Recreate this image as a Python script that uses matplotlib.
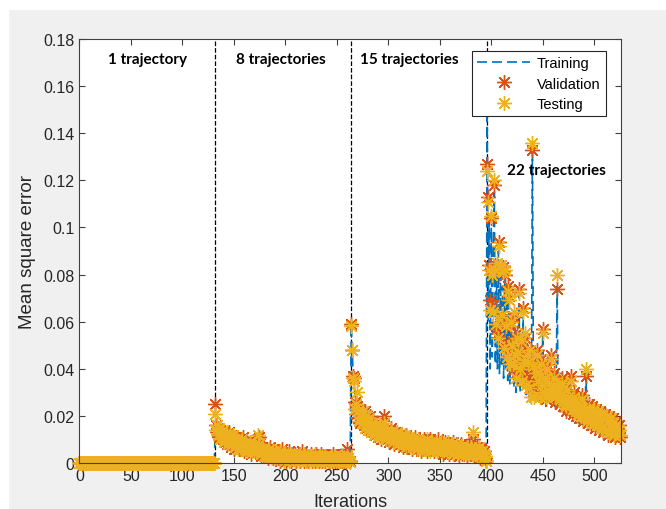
import numpy as np
import matplotlib.pyplot as plt
from matplotlib.patches import Rectangle
from matplotlib.ticker import FuncFormatter

# MSE values are stored x1000
# phase 1: 1 trajectory, iterations 0-131 (all ~0)
train_p1 = [0] * 132
val_p1 = [0] * 132
test_p1 = [0] * 132

# phase 2: 8 trajectories, iterations 132-263
train_p2 = [15, 14, 13, 12, 13, 11, 12, 10, 11, 10,
            10, 9, 10, 9, 8, 10, 8, 9, 8, 8,
            8, 7, 8, 8, 6, 7, 6, 7, 6, 6,
            7, 5, 6, 5, 7, 5, 5, 6, 4, 5,
            5, 7, 8, 5, 4, 4, 5, 3, 4, 4,
            3, 4, 4, 3, 5, 3, 3, 2, 3, 4,
            2, 2, 3, 3, 2, 2, 4, 2, 2, 3,
            2, 2, 2, 3, 2, 2, 1, 2, 2, 3,
            2, 2, 2, 1, 2, 3, 1, 2, 4, 2,
            1, 1, 2, 2, 1, 2, 1, 3, 1, 1,
            1, 2, 1, 1, 2, 2, 1, 1, 2, 1,
            1, 1, 1, 2, 1, 1, 1, 1, 1, 2,
            1, 1, 1, 1, 1, 1, 1, 1, 5, 2, 1, 0.5]
val_p2 = [25, 16, 13, 15, 11, 14, 12, 10, 13, 9,
          12, 8, 11, 13, 9, 7, 11, 10, 6, 9,
          11, 7, 8, 10, 6, 9, 7, 11, 5, 8,
          6, 9, 5, 8, 7, 4, 8, 6, 9, 5,
          7, 10, 11, 5, 3, 7, 4, 6, 3, 5,
          6, 2, 4, 7, 3, 5, 2, 6, 4, 3,
          5, 2, 4, 1, 3, 6, 2, 4, 3, 1,
          4, 2, 5, 3, 1, 3, 2, 4, 1, 3,
          2, 4, 1, 3, 5, 2, 1, 3, 4, 2,
          1, 3, 2, 4, 1, 2, 3, 1, 4, 2,
          3, 1, 2, 4, 1, 3, 2, 1, 3, 2,
          1, 3, 2, 1, 4, 2, 1, 3, 1, 2,
          3, 1, 2, 1, 3, 1, 2, 1, 6, 2, 1, 1]
test_p2 = [21, 14, 16, 12, 15, 10, 13, 14, 9, 12,
           10, 12, 8, 10, 12, 9, 8, 12, 10, 7,
           9, 10, 6, 8, 9, 6, 10, 7, 8, 6,
           8, 5, 7, 6, 9, 6, 5, 7, 5, 8,
           5, 12, 8, 6, 4, 5, 6, 3, 5, 4,
           3, 5, 6, 3, 4, 2, 5, 3, 2, 5,
           2, 4, 3, 5, 2, 3, 4, 1, 4, 3,
           2, 4, 1, 3, 4, 2, 3, 1, 3, 2,
           3, 1, 4, 2, 2, 3, 4, 2, 1, 3,
           2, 1, 3, 2, 3, 1, 2, 4, 1, 2,
           1, 3, 2, 1, 3, 2, 1, 3, 2, 1,
           2, 1, 3, 2, 1, 2, 3, 1, 2, 1,
           1, 2, 1, 3, 1, 2, 1, 2, 3, 2, 1, 0.5]

# phase 3: 15 trajectories, iterations 264-395
train_p3 = [59, 47, 36, 34, 22, 21, 25, 20, 19, 21,
            18, 17, 20, 16, 18, 15, 17, 14, 16, 15,
            13, 16, 14, 12, 15, 13, 11, 14, 12, 13,
            11, 13, 19, 12, 10, 12, 11, 9, 13, 10,
            11, 9, 10, 12, 8, 10, 9, 11, 8, 10,
            9, 7, 10, 8, 9, 11, 7, 9, 8, 7,
            9, 8, 6, 8, 10, 7, 8, 6, 9, 7,
            8, 6, 7, 9, 6, 8, 7, 5, 8, 6,
            7, 8, 5, 7, 6, 8, 5, 7, 6, 9,
            6, 5, 7, 6, 4, 8, 6, 5, 7, 4,
            6, 5, 7, 4, 6, 5, 4, 6, 5, 3,
            5, 4, 6, 3, 5, 4, 6, 3, 9, 4,
            3, 5, 4, 2, 4, 3, 5, 2, 3, 4, 2, 0.5]
val_p3 = [59, 48, 37, 36, 26, 21, 24, 19, 23, 17,
          21, 18, 16, 22, 15, 19, 17, 14, 20, 16,
          13, 18, 15, 12, 17, 14, 11, 16, 13, 10,
          15, 12, 20, 11, 14, 10, 13, 9, 12, 15,
          10, 12, 8, 13, 11, 9, 12, 8, 11, 10,
          7, 11, 9, 12, 8, 10, 7, 11, 9, 6,
          10, 8, 11, 7, 9, 6, 10, 8, 5, 9,
          7, 10, 6, 8, 5, 9, 7, 10, 6, 8,
          5, 9, 7, 6, 10, 5, 8, 6, 9, 4,
          7, 9, 5, 8, 6, 4, 8, 7, 5, 9,
          6, 4, 8, 5, 7, 3, 6, 8, 4, 6,
          5, 7, 3, 6, 8, 4, 6, 5, 10, 3,
          6, 4, 7, 3, 5, 2, 6, 4, 3, 5, 2, 1]
test_p3 = [58, 48, 36, 35, 23, 25, 30, 22, 18, 21,
           17, 22, 19, 15, 20, 16, 14, 19, 15, 13,
           17, 14, 12, 16, 13, 15, 14, 12, 16, 12,
           11, 14, 17, 13, 10, 14, 11, 12, 10, 13,
           12, 9, 11, 10, 13, 8, 10, 11, 9, 12,
           10, 8, 12, 7, 10, 9, 11, 8, 10, 8,
           7, 10, 8, 9, 6, 10, 7, 9, 8, 6,
           9, 6, 8, 7, 10, 6, 8, 5, 9, 7,
           8, 6, 9, 5, 7, 8, 6, 9, 5, 7,
           6, 8, 7, 5, 9, 6, 5, 7, 8, 4,
           7, 5, 6, 8, 4, 7, 5, 6, 7, 4,
           6, 4, 7, 5, 4, 6, 7, 4, 13, 5,
           4, 6, 3, 5, 7, 3, 4, 5, 2, 4, 3, 1]

# phase 4: 22 trajectories, iterations 396-525
train_p4 = [150, 60, 105, 40, 100, 45, 95, 115, 42, 85,
            40, 90, 38, 80, 42, 75, 36, 78, 40, 70,
            35, 68, 33, 60, 38, 55, 32, 58, 30, 50,
            33, 72, 30, 48, 35, 62, 31, 50, 29, 45,
            32, 28, 44, 30, 135, 30, 28, 34, 45, 27,
            35, 26, 40, 28, 55, 27, 35, 24, 38, 26,
            33, 25, 42, 27, 28, 34, 24, 30, 75, 26,
            30, 23, 28, 33, 22, 27, 24, 20, 30, 23,
            21, 36, 25, 19, 27, 22, 18, 25, 20, 17,
            23, 20, 26, 16, 22, 19, 38, 18, 15, 22,
            19, 15, 21, 17, 19, 14, 21, 16, 18, 13,
            20, 15, 17, 12, 19, 14, 16, 11, 18, 13,
            15, 12, 17, 13, 10, 16, 13, 11, 14, 10]
val_p4 = [127, 113, 84, 69, 104, 82, 67, 118, 84, 57,
          83, 55, 94, 82, 61, 83, 51, 80, 60, 47,
          75, 71, 44, 58, 52, 40, 62, 48, 38, 55,
          45, 74, 42, 50, 37, 66, 45, 53, 35, 48,
          41, 34, 46, 38, 133, 43, 30, 36, 48, 33,
          40, 29, 44, 35, 57, 32, 38, 27, 42, 31,
          36, 28, 46, 33, 30, 38, 26, 34, 74, 29,
          33, 25, 31, 36, 24, 30, 27, 22, 33, 26,
          23, 37, 28, 21, 30, 25, 20, 27, 23, 19,
          26, 22, 29, 18, 24, 21, 37, 20, 17, 25,
          22, 16, 24, 19, 21, 15, 23, 18, 20, 14,
          22, 17, 19, 13, 21, 16, 18, 12, 20, 15,
          17, 13, 19, 14, 11, 18, 15, 12, 16, 11]
test_p4 = [124, 111, 82, 65, 105, 80, 64, 120, 82, 59,
           85, 53, 92, 84, 63, 81, 49, 82, 58, 45,
           73, 69, 42, 60, 50, 42, 64, 46, 36, 53,
           47, 72, 40, 52, 35, 64, 43, 55, 33, 46,
           43, 32, 48, 28, 136, 41, 28, 38, 46, 35,
           38, 28, 42, 33, 55, 30, 36, 28, 40, 29,
           34, 30, 44, 31, 32, 36, 28, 32, 80, 31,
           31, 27, 29, 34, 26, 28, 25, 24, 31, 28,
           25, 35, 26, 23, 28, 23, 22, 25, 21, 21,
           24, 20, 27, 20, 22, 23, 40, 18, 19, 23,
           20, 18, 22, 17, 23, 17, 21, 16, 22, 16,
           20, 15, 21, 15, 19, 14, 20, 13, 18, 13,
           19, 15, 17, 12, 13, 16, 13, 14, 14, 12]

boundaries = [132, 264, 395.5]
phase_labels = ['1 trajectory', '8 trajectories', '15 trajectories', '22 trajectories']
label_pos = [(66, 0.1715), (196, 0.1715), (320, 0.1715), (463, 0.1245)]

train = np.array(train_p1 + train_p2 + train_p3 + train_p4) / 1000
val = np.array(val_p1 + val_p2 + val_p3 + val_p4) / 1000
test = np.array(test_p1 + test_p2 + test_p3 + test_p4) / 1000
iters = np.arange(len(train))

fig = plt.figure(figsize=(6.66, 5.10), dpi=100, facecolor='#f0f0f0')
# white margin strips of the screenshot
fig.patches.append(Rectangle((0, 1 - 10 / 510), 1, 10 / 510, transform=fig.transFigure,
                             color='white', zorder=-1))
fig.patches.append(Rectangle((0, 0), 8 / 666, 1, transform=fig.transFigure,
                             color='white', zorder=-1))

ax = fig.add_axes([0.1192, 0.0902, 0.8132, 0.8314])
axis_col = '#404040'

for b in boundaries:
    ax.axvline(b, color='k', ls='--', lw=0.9, zorder=1)

ax.plot(iters, train, ls=(0, (6, 3)), color='#0072BD', lw=1.2, label='Training', zorder=2)
ax.plot(iters, val, ls='none', marker=(8, 2, 0), ms=10.5, color='#D95319', mew=1.0,
        label='Validation', zorder=3, clip_on=False)
ax.plot(iters, test, ls='none', marker=(8, 2, 0), ms=10.5, color='#EDB120', mew=1.0,
        label='Testing', zorder=4, clip_on=False)

for txt, (tx, ty) in zip(phase_labels, label_pos):
    ax.text(tx, ty, txt, ha='center', va='center', fontsize=11, fontweight='bold',
            family='Lato', color='black')

ax.set_xlim(0, 526)
ax.set_ylim(0, 0.18)
ax.set_xticks(np.arange(0, 501, 50))
ax.set_yticks(np.arange(0, 0.181, 0.02))
ax.yaxis.set_major_formatter(FuncFormatter(lambda v, p: '{:g}'.format(round(v, 2))))
ax.tick_params(direction='in', top=True, right=True, length=4, width=0.8,
               colors=axis_col, labelsize=11.5, labelcolor='#262626')
for lab in ax.get_xticklabels() + ax.get_yticklabels():
    lab.set_family('Liberation Sans')
for sp in ax.spines.values():
    sp.set_color(axis_col)
    sp.set_linewidth(0.8)
    sp.set_zorder(5)

ax.set_xlabel('Iterations', fontsize=13, family='Liberation Sans', color='#262626',
              labelpad=7)
ax.set_ylabel('Mean square error', fontsize=13.5, family='Liberation Sans', color='#262626',
              labelpad=5)

leg = ax.legend(loc='upper right', bbox_to_anchor=(0.972, 0.972), borderaxespad=0,
                fancybox=False, framealpha=1, edgecolor='#262626', handlelength=3.6,
                handletextpad=0.5, prop={'family': 'Liberation Sans', 'size': 10.5},
                labelspacing=0.45, borderpad=0.35)
leg.get_frame().set_linewidth(0.8)
leg.set_zorder(6)

fig.savefig('out.png', dpi=100, facecolor=fig.get_facecolor())
